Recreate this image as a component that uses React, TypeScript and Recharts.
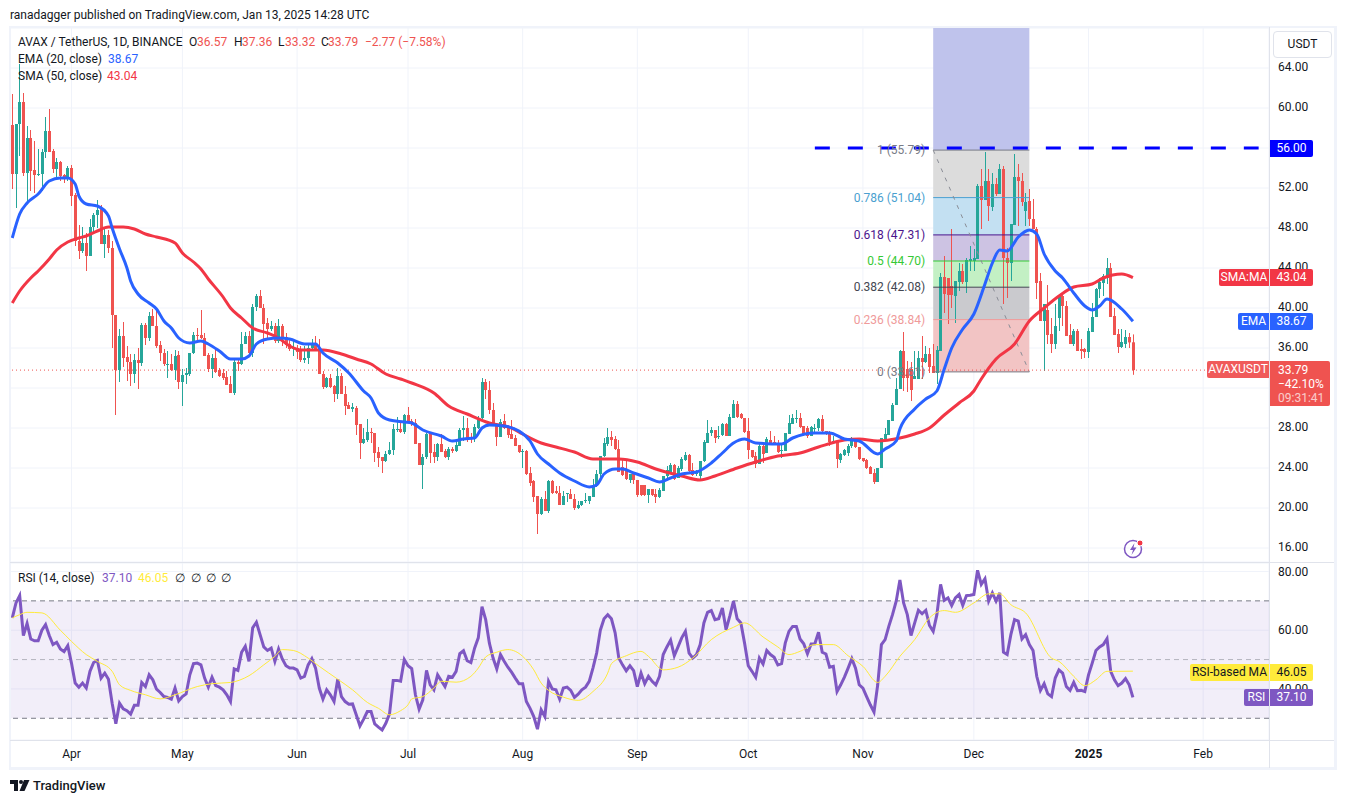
import {
  Bar, CartesianGrid, ComposedChart, Line, ReferenceArea, ReferenceLine, XAxis, YAxis,
} from 'recharts';
import type { CSSProperties, ReactNode } from 'react';

const UP = '#26a69a';
const DOWN = '#ef5350';
const GRID = '#f0f3fa';
const FONT = 'Roboto, sans-serif';

// daily candles, 16 Mar 2024 -> 13 Jan 2025
const opens = [
  58.3,53.4,58.4,60.6,53.5,57.0,53.8,53.3,53.4,55.6, 57.7,55.7,53.9,54.6,53.3,52.9,54.0,51.3,46.7,45.7,
  46.5,45.2,48.1,49.3,49.9,46.4,47.3,46.0,39.3,33.8, 37.2,35.1,34.6,33.4,34.8,34.5,38.3,37.0,39.2,38.2,
  36.3,35.5,34.3,34.4,33.8,35.3,32.6,33.3,33.4,35.5, 37.3,37.3,37.0,35.3,33.9,35.0,33.8,33.5,33.1,32.4,
  31.5,34.6,34.4,36.4,37.2,35.5,40.1,41.2,40.0,38.5, 37.9,38.2,36.7,38.2,37.1,36.4,35.9,36.0,35.9,34.8,
  35.0,36.0,36.4,36.0,33.4,32.1,33.0,32.2,31.4,33.2, 31.4,30.3,29.9,30.0,28.4,26.5,26.8,27.6,27.5,25.6,
  25.1,24.7,25.4,25.8,27.9,27.9,27.6,29.3,28.7,28.5, 26.5,24.3,25.1,27.5,25.6,25.1,26.4,25.7,25.1,25.9,
  25.7,26.2,27.8,28.0,27.1,27.0,28.0,29.0,32.6,31.8, 29.8,28.4,27.1,28.7,28.1,27.4,27.0,26.3,25.6,25.7,
  23.5,22.7,21.2,19.4,20.9,19.7,22.7,21.7,21.5,20.3, 21.4,21.4,20.9,20.0,20.3,20.7,20.7,21.1,22.2,23.4,
  25.2,26.4,27.1,26.9,25.9,24.1,23.7,22.8,23.4,22.8, 22.3,22.3,21.3,21.9,21.4,21.1,21.7,23.2,23.6,24.3,
  23.0,23.9,24.8,25.3,23.8,23.4,23.2,24.7,26.5,27.5, 27.8,27.1,27.3,28.4,27.2,29.0,30.4,29.4,29.0,27.7,
  25.8,25.2,24.4,26.2,25.5,26.8,26.6,26.4,25.7,25.7, 27.4,28.4,28.9,29.0,28.2,28.0,27.2,28.0,28.0,28.9,
  27.7,27.5,26.6,26.7,24.8,25.3,25.5,26.2,26.9,26.1, 25.0,24.8,24.1,23.5,22.6,24.0,26.9,27.3,28.7,30.3,
  31.9,35.7,33.9,33.9,32.9,32.9,35.0,34.6,35.4,34.2, 33.5,35.7,43.1,43.0,42.2,41.2,42.6,43.7,42.6,44.7,
  44.7,44.9,52.2,50.8,52.7,50.1,52.4,51.4,53.9,45.0, 44.5,48.3,53.1,52.7,49.7,50.7,48.9,47.9,42.7,38.7,
  39.8,37.4,36.4,39.0,41.2,40.2,37.3,36.4,37.7,35.9, 35.9,35.6,37.6,39.1,41.9,42.5,43.0,44.0,39.2,37.4,
  36.1,36.4,37.1,36.57,
];
const highs = [
  61.4,58.4,64.4,61.5,58.2,57.8,56.7,55.9,55.9,59.1, 59.9,55.9,55.0,54.7,53.4,54.2,54.3,51.5,48.3,48.1,
  47.5,48.9,49.5,50.8,50.3,48.0,47.8,46.7,39.3,37.9, 38.6,36.2,35.4,35.4,36.0,38.5,38.5,39.6,39.9,40.0,
  36.7,35.9,35.7,35.4,35.8,35.7,33.9,34.0,35.5,37.6, 38.0,39.8,37.5,35.5,35.4,36.1,34.0,33.9,33.7,33.2,
  34.9,34.9,37.6,37.6,37.7,40.4,41.4,41.8,40.4,39.0, 38.7,38.5,38.9,38.4,37.5,37.0,36.7,36.3,36.2,36.2,
  36.4,36.9,37.2,36.9,33.7,33.1,33.4,32.3,34.0,33.5, 32.2,30.6,30.5,30.2,28.4,28.0,28.9,28.0,27.5,26.1,
  25.1,25.7,26.6,28.4,29.1,28.7,29.4,30.1,28.9,28.9, 26.5,25.4,27.5,27.6,26.4,26.5,27.4,25.9,26.1,26.1,
  26.7,28.0,29.2,29.0,27.5,28.4,29.2,33.0,32.9,32.7, 30.5,28.4,28.9,29.4,28.2,28.8,27.3,26.3,25.9,25.8,
  24.1,22.8,21.2,21.1,21.7,22.8,22.8,22.2,22.2,21.7, 21.5,21.9,21.4,20.7,20.7,21.5,21.2,22.9,23.8,25.2,
  27.0,28.0,27.7,27.2,26.8,25.0,24.7,23.4,23.4,22.8, 22.3,22.3,21.9,21.9,21.9,22.0,23.2,24.2,24.5,24.4,
  24.2,25.1,25.6,25.4,24.5,23.8,24.7,26.8,28.8,28.1, 27.8,28.2,28.5,28.5,29.4,30.8,30.7,29.5,29.0,29.0,
  25.8,25.6,26.4,26.6,27.1,27.7,27.2,26.8,26.5,27.5, 29.3,29.4,29.8,29.5,28.2,28.2,28.2,28.4,29.0,29.3,
  27.7,27.7,27.2,26.8,25.5,25.9,26.4,27.1,27.0,26.1, 25.0,24.9,24.2,23.9,24.0,27.0,28.0,28.8,30.5,33.0,
  35.8,37.6,34.7,34.6,35.7,35.7,37.2,36.2,36.0,36.4, 36.2,43.5,45.2,43.0,47.9,42.7,44.5,44.4,45.0,46.2,
  45.9,52.4,53.9,55.6,53.9,53.5,53.0,54.4,54.2,46.0, 48.4,55.4,54.4,53.5,51.5,51.9,50.9,48.1,43.5,40.4,
  42.3,39.0,40.4,41.4,41.4,40.7,38.4,37.9,37.9,36.9, 36.0,38.0,40.5,42.0,43.0,43.4,45.0,44.5,40.0,37.9,
  37.9,37.8,37.5,37.36,
];
const lows = [
  51.9,50.0,55.2,53.2,50.7,51.7,51.5,53.2,51.7,55.0, 55.6,53.5,53.0,52.7,52.5,52.7,50.2,46.2,44.9,45.5,
  43.7,45.2,47.5,48.0,46.4,45.0,45.5,36.0,29.3,32.6, 34.1,32.7,32.2,32.5,31.9,34.2,36.3,36.7,38.2,36.0,
  34.7,34.2,33.0,33.7,32.8,31.9,30.2,32.4,33.2,35.4, 36.5,36.9,35.2,33.6,33.0,33.5,33.1,32.8,32.3,31.5,
  31.3,33.7,34.3,36.4,35.4,35.1,39.7,40.0,36.4,37.0, 37.7,36.5,36.5,36.2,36.0,35.7,35.2,34.9,34.6,34.5,
  34.4,35.7,35.7,33.4,31.9,32.0,32.0,30.6,30.9,31.4, 29.3,29.9,29.6,27.3,24.9,26.4,26.6,26.5,24.6,24.1,
  23.5,24.6,25.3,25.3,27.6,27.5,27.4,28.5,28.2,26.4, 24.3,21.9,24.9,24.5,24.5,24.7,25.6,25.0,24.8,25.5,
  25.6,26.2,26.7,26.6,26.5,26.6,27.9,28.9,30.9,29.4, 28.4,26.2,27.1,27.9,27.0,26.9,26.2,25.5,24.0,23.3,
  22.2,20.6,17.4,19.3,19.7,19.5,21.4,21.4,20.3,20.3, 20.6,20.9,19.8,19.9,20.2,20.5,20.4,21.1,22.1,23.0,
  25.1,26.2,26.2,25.8,23.6,23.2,22.8,22.5,22.4,21.1, 21.2,21.2,20.5,21.2,20.5,21.0,21.7,23.0,23.4,22.8,
  23.1,23.7,24.7,23.6,23.2,23.2,22.8,24.6,26.5,27.2, 26.5,26.9,27.2,27.2,27.2,29.0,29.0,28.9,27.5,24.9,
  25.0,24.0,24.4,24.5,25.5,26.3,26.3,25.5,25.0,25.7, 27.4,28.4,28.5,28.0,27.2,27.0,27.2,27.6,27.7,27.5,
  27.3,26.2,26.5,24.0,24.5,25.2,25.2,26.0,26.0,24.8, 24.6,23.9,23.4,22.4,22.6,24.0,26.8,27.3,28.7,30.3,
  31.9,31.7,31.6,30.7,32.9,32.9,32.9,34.5,33.5,33.5, 32.4,35.7,39.5,38.4,40.0,38.5,41.7,42.4,41.5,43.7,
  43.7,44.9,47.9,50.8,48.7,49.7,51.2,51.4,40.4,41.0, 42.7,48.3,48.2,50.2,48.2,48.2,47.9,40.9,38.7,33.7,
  36.4,35.5,35.9,37.7,38.2,37.2,36.4,36.2,35.7,34.9, 35.0,35.0,37.6,39.1,41.0,41.2,42.4,39.1,37.3,35.5,
  36.0,36.0,36.0,33.32,
];
const closes = [
  53.4,58.4,60.6,53.5,57.0,53.7,53.3,53.4,55.6,57.7, 55.6,53.9,54.6,53.2,52.9,54.0,51.2,46.7,45.7,46.5,
  45.2,48.1,49.3,49.8,46.4,47.3,46.0,39.3,33.8,37.2, 35.0,34.6,33.4,34.8,34.5,38.3,37.0,39.2,38.2,36.2,
  35.5,34.4,34.4,33.8,35.2,32.6,33.3,33.5,35.5,37.3, 37.2,37.0,35.2,33.9,35.0,33.6,33.2,33.0,32.3,31.5,
  34.6,34.4,36.4,37.2,35.5,40.1,41.2,40.0,38.4,37.9, 38.2,36.7,38.2,36.9,36.3,35.9,36.0,35.6,34.8,35.0,
  36.0,36.4,35.8,33.4,32.1,33.0,32.1,31.4,33.2,31.4, 30.2,29.9,30.1,28.3,26.5,26.9,27.6,27.5,25.5,25.0,
  24.7,25.4,25.8,27.9,27.9,27.6,29.3,28.7,28.5,26.4, 24.3,25.1,27.4,25.5,25.1,26.4,25.6,25.1,25.9,25.7,
  26.3,27.8,28.0,27.0,27.0,28.1,29.0,32.6,31.8,29.8, 28.4,27.1,28.6,28.0,27.3,26.9,26.2,25.6,25.7,23.4,
  22.5,21.1,19.4,20.9,19.7,22.7,21.5,21.5,20.3,21.2, 21.5,20.9,20.0,20.3,20.7,20.8,21.2,22.2,23.4,25.2,
  26.5,27.1,26.8,25.9,23.6,23.3,22.9,23.4,22.8,21.3, 21.3,21.3,21.9,21.3,21.1,21.8,23.2,23.8,24.3,22.9,
  24.0,24.9,25.3,23.7,23.3,23.7,24.7,26.6,27.5,27.8, 27.0,27.2,28.4,27.2,29.1,30.4,29.1,29.0,27.6,25.8,
  25.1,24.4,26.2,25.4,26.9,26.4,26.4,25.6,25.8,27.5, 28.5,29.0,29.0,28.1,27.3,27.2,28.1,28.0,28.9,27.7,
  27.5,26.6,26.7,24.9,25.4,25.8,26.2,27.0,26.1,24.9, 24.7,24.0,23.4,22.6,24.0,27.0,27.4,28.8,30.3,31.9,
  35.7,33.0,33.0,31.8,33.2,35.0,34.6,35.4,34.1,33.5, 35.8,43.1,41.4,41.3,41.3,42.7,43.7,42.6,44.8,44.9,
  45.0,52.2,50.8,52.7,50.2,52.4,51.4,53.9,45.0,44.5, 48.4,53.1,52.7,50.6,50.6,48.9,47.9,42.5,38.7,40.4,
  37.3,36.4,38.2,41.2,40.2,37.2,36.4,37.7,35.7,35.7, 35.6,37.7,39.1,41.9,42.6,43.2,44.0,39.1,37.3,36.1,
  36.6,37.1,36.56,33.79,
];

const rsi14 = [
  64.2,69.3,71.8,58.2,62.3,57.0,56.4,56.4,60.0,61.9, 58.2,55.1,55.9,53.6,52.7,54.7,48.8,42.0,40.6,42.0,
  40.3,46.0,49.0,49.7,43.7,45.4,43.3,35.1,28.1,35.1, 33.2,32.6,31.4,34.4,34.4,42.2,40.8,44.8,43.1,39.9,
  38.8,37.4,37.1,36.5,40.3,35.9,37.4,38.3,44.8,48.6, 48.8,48.2,43.7,40.6,44.0,41.1,40.6,39.7,38.0,35.7,
  46.8,46.3,52.5,54.5,49.4,60.8,62.7,58.5,54.3,53.1, 53.9,49.4,53.6,50.2,47.9,47.1,47.1,46.5,43.7,44.3,
  48.2,50.3,47.1,40.3,36.5,39.7,38.0,35.7,43.3,37.4, 35.7,34.8,34.9,31.2,27.4,29.7,32.3,32.3,28.1,27.0,
  26.0,28.3,31.5,42.9,42.9,42.6,50.0,47.9,46.9,38.0, 33.1,36.3,46.3,41.4,39.7,44.8,42.8,40.8,44.3,44.0,
  46.0,52.0,53.0,49.6,49.0,53.9,57.4,68.0,63.6,55.6, 50.5,46.8,51.7,49.4,47.4,45.7,43.7,41.8,41.8,35.7,
  33.4,30.6,26.3,32.9,30.6,42.6,40.0,39.7,36.5,40.3, 40.6,39.5,37.1,38.2,39.7,40.6,42.6,47.1,52.2,60.0,
  63.9,65.3,63.9,59.1,50.5,48.2,46.2,47.9,46.2,40.8, 45.4,41.8,44.3,42.6,41.4,44.3,51.7,54.3,56.6,51.3,
  54.3,57.4,59.6,52.2,50.5,51.7,55.1,62.5,66.1,66.7, 63.6,63.9,67.6,60.2,64.8,69.9,63.9,62.5,55.6,47.9,
  46.0,44.0,50.5,48.5,53.1,51.7,50.8,48.2,48.6,55.6, 59.6,61.3,61.3,57.0,55.4,52.0,55.3,55.4,59.3,52.5,
  51.9,47.4,47.7,39.1,41.4,44.0,47.1,50.3,47.1,41.4, 40.3,37.4,34.6,32.1,41.4,55.1,56.8,61.3,65.3,69.9,
  77.1,69.3,65.3,58.2,62.5,66.8,65.6,66.8,61.6,59.6, 65.3,75.6,70.2,71.0,68.4,71.0,72.2,68.5,71.8,71.9,
  72.2,80.4,75.6,77.5,69.9,72.7,69.9,72.7,52.5,51.7, 58.5,63.6,63.1,57.0,58.5,55.1,53.1,44.3,39.5,41.8,
  38.3,37.4,43.7,46.5,45.4,40.8,39.5,42.2,39.4,39.5, 39.1,44.8,48.8,53.1,54.3,55.1,57.1,46.0,43.1,41.1,
  42.0,43.5,41.4,37.10,
];

// smooth lines are read at these candles only, the chart joins them
const emaDays = [0,2,4,7,10,13,15,17,18,20,23,26,27,29,31,32,34,37,39,41,43,45,48,51,53,56,59,62,64,66,69,72,75,79,82,84,88,91,95,97,99,102,106,108,111,116,119,122,125,127,129,133,137,140,142,145,148,152,156,158,160,163,165,168,172,175,178,181,185,189,192,195,198,201,208,211,217,221,225,229,234,236,239,240,244,247,250,252,254,257,260,263,265,267,269,272,275,277,279,282,284,287,290,292,294,296,300,303];
const emaVals = [47.0,49.4,50.5,51.4,52.7,53.0,53.0,52.4,51.2,50.4,50.2,49.2,48.0,45.9,44.0,42.7,41.4,40.5,39.9,38.7,38.0,37.0,36.5,36.7,36.4,35.7,34.9,34.9,35.2,36.4,36.9,37.0,36.9,36.4,36.4,35.5,34.5,33.5,31.7,31.0,29.5,28.8,28.6,28.5,27.8,27.2,26.7,26.9,27.0,28.0,28.3,28.2,27.7,26.7,25.4,24.4,23.5,22.7,22.1,22.3,23.4,23.9,23.9,23.5,23.0,22.6,23.0,23.4,23.6,24.5,25.5,26.5,26.9,26.5,26.4,27.0,27.5,27.5,26.9,26.7,25.4,25.9,26.7,27.9,29.9,30.9,31.7,33.9,36.0,37.9,39.4,42.4,44.5,45.8,45.7,47.1,47.8,47.4,45.4,43.7,43.0,41.5,40.2,39.8,40.2,40.9,39.9,38.67];

const smaDays = [0,2,5,7,10,12,15,18,20,23,26,30,33,36,39,44,46,49,51,53,57,59,62,65,69,72,75,78,84,89,93,97,101,105,108,114,118,123,129,135,138,143,147,152,157,164,169,174,181,186,190,196,201,207,213,218,225,229,234,240,244,248,252,256,260,262,266,271,275,279,283,287,292,295,300,303];
const smaVals = [40.5,41.7,43.0,43.7,44.9,45.8,46.6,47.0,47.2,47.7,48.1,48.1,47.9,47.4,47.1,46.5,45.5,44.6,43.9,42.9,41.1,40.0,39.0,38.0,37.5,37.0,36.2,35.8,35.8,35.4,34.9,34.4,33.4,32.9,32.5,31.5,30.2,29.4,28.5,28.0,27.4,26.5,26.1,25.6,24.9,24.9,24.6,23.9,23.2,22.8,23.2,24.0,24.6,25.2,25.5,26.1,26.8,26.9,26.7,27.0,27.4,28.0,29.3,30.5,31.7,32.9,34.9,36.4,38.7,40.0,41.2,42.1,42.4,43.0,43.4,43.04];

const rsiMaDays = [0,2,4,8,13,16,20,23,27,29,32,36,40,44,50,54,59,64,68,71,73,76,80,83,88,92,96,99,102,105,107,108,111,114,116,120,124,126,128,131,134,138,141,143,145,149,153,157,161,162,166,170,172,176,180,184,189,195,198,203,207,210,213,217,222,226,230,234,236,240,244,248,252,255,260,264,267,270,274,281,283,287,290,293,296,299,303];
const rsiMaVals = [64.2,65.3,66.1,65.9,60.0,56.2,51.7,49.4,46.0,41.4,39.5,38.0,36.6,38.0,40.8,41.8,42.2,44.5,48.2,51.1,53.4,53.1,50.5,47.7,43.3,39.7,35.4,33.4,31.2,32.6,34.6,36.6,37.4,40.3,42.6,42.3,44.3,47.1,50.9,52.5,53.4,51.1,46.5,42.0,39.5,37.2,36.1,39.1,45.4,48.6,51.3,52.8,51.1,46.5,47.4,50.5,56.8,61.0,62.5,57.7,54.3,51.7,52.8,55.1,55.1,51.3,47.7,42.2,44.3,51.1,56.8,64.2,66.7,66.1,69.3,72.4,72.4,68.7,65.9,50.5,49.4,44.3,41.1,43.1,46.0,46.0,46.05];

const monthTicks = [16, 46, 77, 107, 138, 169, 199, 230, 260, 291, 322];
const monthLabels = ['Apr', 'May', 'Jun', 'Jul', 'Aug', 'Sep', 'Oct', 'Nov', 'Dec', '2025', 'Feb'];
const priceTicks = [16, 20, 24, 28, 32, 36, 40, 44, 48, 52, 56, 60, 64];
const rsiTicks = [40, 60, 80];

// fib retracement levels, top to bottom
const fibLevels = [55.79, 51.04, 47.31, 44.70, 42.08, 38.84, 33.61];
const fibNames = ['1 (55.79)', '0.786 (51.04)', '0.618 (47.31)', '0.5 (44.70)', '0.382 (42.08)', '0.236 (38.84)', '0 (33.61)'];
const fibLine = ['#787b86', '#4a9fd0', '#4a148c', '#35c935', '#434651', '#ef9a9a', '#787b86'];
const fibFill = ['#dcdcdc', '#c3e0f2', '#cdc3e3', '#c3f0c4', '#cacace', '#f2c4c4'];
const fibStart = 249;
const fibEnd = 275;

const emaByDay = new Map(emaDays.map((d, k) => [d, emaVals[k]]));
const smaByDay = new Map(smaDays.map((d, k) => [d, smaVals[k]]));
const maByDay = new Map(rsiMaDays.map((d, k) => [d, rsiMaVals[k]]));

const rows = closes.map((close, i) => ({
  i,
  open: opens[i],
  high: highs[i],
  low: lows[i],
  close,
  ema: emaByDay.get(i) ?? null,
  sma: smaByDay.get(i) ?? null,
  rsi: rsi14[i],
  rsiMa: maByDay.get(i) ?? null,
}));

const xDomain = [-0.62, 339.8];

function Candle(props: any) {
  const { x, y, width, height, payload } = props;
  const color = payload.close >= payload.open ? UP : DOWN;
  const perUnit = height / (payload.high - payload.low);
  const bodyTop = y + (payload.high - Math.max(payload.open, payload.close)) * perUnit;
  const bodyHeight = Math.max(1, Math.abs(payload.close - payload.open) * perUnit);
  const cx = Math.round(x + width / 2);
  return (
    <g>
      <rect x={cx} y={y} width={1} height={height} fill={color} />
      <rect x={cx - 1} y={bodyTop} width={3} height={bodyHeight} fill={color} />
    </g>
  );
}

function MonthTick({ x, y, payload }: any) {
  const label = monthLabels[monthTicks.indexOf(payload.value)];
  return (
    <text x={x} y={y + 18} textAnchor="middle" fontSize={12} fill="#131722" fontWeight={label === '2025' ? 700 : 400}>
      {label}
    </text>
  );
}

function Txt({ x, y, color = '#131722', size = 12, style, children }: {
  x: number; y: number; color?: string; size?: number; style?: CSSProperties; children: ReactNode;
}) {
  return (
    <div style={{ position: 'absolute', left: x, top: y - 8, height: 16, lineHeight: '16px', fontSize: size, color, whiteSpace: 'nowrap', ...style }}>
      {children}
    </div>
  );
}

function Tag({ left, width, top, height = 17, bg, color = '#fff', radius = '0', children }: {
  left: number; width: number; top: number; height?: number; bg: string; color?: string; radius?: string; children: ReactNode;
}) {
  return (
    <div style={{ position: 'absolute', left, width, top, height, lineHeight: `${height}px`, background: bg, color, fontSize: 12, textAlign: 'center', borderRadius: radius, whiteSpace: 'nowrap' }}>
      {children}
    </div>
  );
}

function Rule({ left, top, width, height, color = '#e0e3eb' }: { left: number; top: number; width: number; height: number; color?: string }) {
  return <div style={{ position: 'absolute', left, top, width, height, background: color }} />;
}

export default function App() {
  return (
    <div style={{ position: 'absolute', left: 0, top: 0, width: 1345, height: 803, background: '#fff', fontFamily: FONT, overflow: 'hidden' }}>
      <Txt x={10} y={15}>ranadagger published on TradingView.com, Jan 13, 2025 14:28 UTC</Txt>

      <div style={{ position: 'absolute', left: 0, top: 28 }}>
        <ComposedChart width={1337} height={534} data={rows} margin={{ top: 0, right: 0, bottom: 0, left: 10 }}>
          <CartesianGrid stroke={GRID} />
          <XAxis dataKey="i" type="number" scale="linear" domain={xDomain} ticks={monthTicks} hide allowDataOverflow />
          <YAxis orientation="right" width={68} domain={[14.6, 68]} ticks={priceTicks} allowDataOverflow
            tickFormatter={(v: number) => v.toFixed(2)} tickLine={false} axisLine={false} tickSize={0} tickMargin={9}
            tick={{ fontSize: 12, fill: '#131722', textAnchor: 'start', dy: -1 }} />
          <ReferenceArea x1={fibStart} x2={fibEnd} y1={fibLevels[0]} y2={68} fill="#bfc3ec" fillOpacity={1} stroke="none" />
          {fibFill.map((fill, k) => (
            <ReferenceArea key={fill} x1={fibStart} x2={fibEnd} y1={fibLevels[k + 1]} y2={fibLevels[k]} fill={fill} fillOpacity={1} stroke="none" />
          ))}
          {fibLevels.map((level, k) => (
            <ReferenceLine key={level} stroke={fibLine[k]} strokeWidth={1}
              segment={[{ x: fibStart, y: level }, { x: fibEnd, y: level }]}
              label={{ value: fibNames[k], position: 'left', fill: fibLine[k], fontSize: 12, offset: 8 }} />
          ))}
          <ReferenceLine stroke="#8a8d96" strokeDasharray="4 6"
            segment={[{ x: fibStart, y: fibLevels[0] }, { x: fibEnd, y: fibLevels[6] }]} />
          <ReferenceLine y={33.79} stroke={DOWN} strokeDasharray="1 3" />
          <ReferenceLine stroke="#0000ff" strokeWidth={3} strokeDasharray="15 18"
            segment={[{ x: 217, y: 56 }, { x: 337, y: 56 }]} />
          <Bar dataKey={(d: any) => [d.low, d.high]} barSize={3} shape={Candle} isAnimationActive={false} />
          <Line dataKey="sma" type="monotone" stroke="#f23645" strokeWidth={3} dot={false} connectNulls isAnimationActive={false} />
          <Line dataKey="ema" type="monotone" stroke="#2962ff" strokeWidth={3} dot={false} connectNulls isAnimationActive={false} />
        </ComposedChart>
      </div>

      <div style={{ position: 'absolute', left: 0, top: 563 }}>
        <ComposedChart width={1337} height={205} data={rows} margin={{ top: 0, right: 0, bottom: 0, left: 10 }}>
          <CartesianGrid stroke={GRID} />
          <XAxis dataKey="i" type="number" scale="linear" domain={xDomain} ticks={monthTicks} interval={0} height={28} allowDataOverflow
            tickLine={false} axisLine={false} tickSize={0} tickMargin={0} tick={<MonthTick />} />
          <YAxis orientation="right" width={68} domain={[22.6, 82.9]} ticks={rsiTicks} allowDataOverflow
            tickFormatter={(v: number) => v.toFixed(2)} tickLine={false} axisLine={false} tickSize={0} tickMargin={9}
            tick={{ fontSize: 12, fill: '#131722', textAnchor: 'start' }} />
          <ReferenceArea y1={30} y2={70} fill="#7e57c2" fillOpacity={0.1} stroke="none" />
          <ReferenceLine y={70} stroke="#787b86" strokeDasharray="5 4" />
          <ReferenceLine y={50} stroke="#787b86" strokeOpacity={0.5} strokeDasharray="5 4" />
          <ReferenceLine y={30} stroke="#787b86" strokeDasharray="5 4" />
          <Line dataKey="rsi" stroke="#7e57c2" strokeWidth={3} dot={false} isAnimationActive={false} />
          <Line dataKey="rsiMa" type="monotone" stroke="#ffeb3b" strokeWidth={1} dot={false} connectNulls isAnimationActive={false} />
        </ComposedChart>
      </div>

      {/* frame and pane separators */}
      <Rule left={9} top={26} width={1328} height={2} color="#f0f3fa" />
      <Rule left={9} top={26} width={2} height={743} color="#f0f3fa" />
      <Rule left={1334} top={26} width={3} height={743} color="#f0f3fa" />
      <Rule left={9} top={767} width={1328} height={3} color="#f0f3fa" />
      <Rule left={10} top={562} width={1324} height={1} />
      <Rule left={10} top={740} width={1324} height={1} />
      <Rule left={1269} top={27} width={1} height={741} />

      {/* legends */}
      <Txt x={18} y={42}>AVAX / TetherUS, 1D, BINANCE</Txt>
      <Txt x={189} y={42}>O</Txt><Txt x={197} y={42} color={DOWN}>36.57</Txt>
      <Txt x={234} y={42}>H</Txt><Txt x={242} y={42} color={DOWN}>37.36</Txt>
      <Txt x={278} y={42}>L</Txt><Txt x={285} y={42} color={DOWN}>33.32</Txt>
      <Txt x={321} y={42}>C</Txt><Txt x={328} y={42} color={DOWN}>33.79</Txt>
      <Txt x={365} y={42} color={DOWN}>−2.77 (−7.58%)</Txt>
      <Txt x={18} y={59}>EMA (20, close)</Txt><Txt x={108} y={59} color="#2962ff">38.67</Txt>
      <Txt x={18} y={76}>SMA (50, close)</Txt><Txt x={107} y={76} color="#f23645">43.04</Txt>
      <Txt x={18} y={578}>RSI (14, close)</Txt>
      <Txt x={102} y={578} color="#7e57c2">37.10</Txt>
      <Txt x={138} y={578} color="#ffeb3b">46.05</Txt>
      <Txt x={175} y={578}>∅</Txt><Txt x={191} y={578}>∅</Txt><Txt x={206} y={578}>∅</Txt><Txt x={221} y={578}>∅</Txt>

      {/* price scale tags */}
      <div style={{ position: 'absolute', left: 1273, top: 31, width: 57, height: 25, border: '1px solid #e0e3eb', borderRadius: 4, background: '#fff', textAlign: 'center', lineHeight: '25px', fontSize: 12, color: '#131722' }}>USDT</div>
      <Tag left={1270} width={43} top={140} bg="#0000ff" radius="0 2px 2px 0">56.00</Tag>
      <Tag left={1219} width={50} top={269} bg="#f23645" radius="2px 0 0 2px">SMA:MA</Tag>
      <Tag left={1270} width={43} top={269} bg="#f23645" radius="0 2px 2px 0">43.04</Tag>
      <Tag left={1238} width={31} top={313} bg="#2962ff" radius="2px 0 0 2px">EMA</Tag>
      <Tag left={1270} width={43} top={313} bg="#2962ff" radius="0 2px 2px 0">38.67</Tag>
      <Tag left={1207} width={62} top={361} bg="#f05a5a" radius="2px 0 0 2px">AVAXUSDT</Tag>
      <div style={{ position: 'absolute', left: 1270, top: 361, width: 60, height: 45, background: '#ef5350', borderRadius: '0 2px 2px 0', color: '#fff', fontSize: 12, lineHeight: '14px', paddingLeft: 8, boxSizing: 'border-box', paddingTop: 2 }}>
        <div>33.79</div>
        <div>−42.10%</div>
        <div style={{ opacity: 0.7 }}>09:31:41</div>
      </div>
      <Tag left={1190} width={79} top={664} bg="#ffeb3b" color="#131722" radius="2px 0 0 2px">RSI-based MA</Tag>
      <Tag left={1270} width={43} top={664} bg="#ffeb3b" color="#131722" radius="0 2px 2px 0">46.05</Tag>
      <Tag left={1244} width={25} top={689} bg="#7e57c2" radius="2px 0 0 2px">RSI</Tag>
      <Tag left={1270} width={43} top={689} bg="#7e57c2" radius="0 2px 2px 0">37.10</Tag>

      {/* alert icon */}
      <svg style={{ position: 'absolute', left: 1122, top: 538 }} width={24} height={22} viewBox="0 0 24 22">
        <circle cx={11} cy={11} r={8.5} fill="none" stroke="#7e57c2" strokeWidth={1.5} />
        <path d="M12.5 5 L8 12 H11 L9.5 17 L14.5 9.5 H11.5 Z" fill="#7e57c2" />
        <circle cx={18} cy={5} r={3} fill="#f23645" stroke="#fff" strokeWidth={1} />
      </svg>

      {/* logo */}
      <svg style={{ position: 'absolute', left: 10, top: 780 }} width={20} height={11} viewBox="0 0 20 11">
        <path d="M0 0 H8 V11 H4 V4 H0 Z" fill="#131722" />
        <circle cx={11} cy={2} r={2} fill="#131722" />
        <path d="M14 0 H19.5 L14.5 11 H9.5 Z" fill="#131722" />
      </svg>
      <Txt x={33} y={786} size={13} style={{ fontWeight: 500 }}>TradingView</Txt>
    </div>
  );
}
